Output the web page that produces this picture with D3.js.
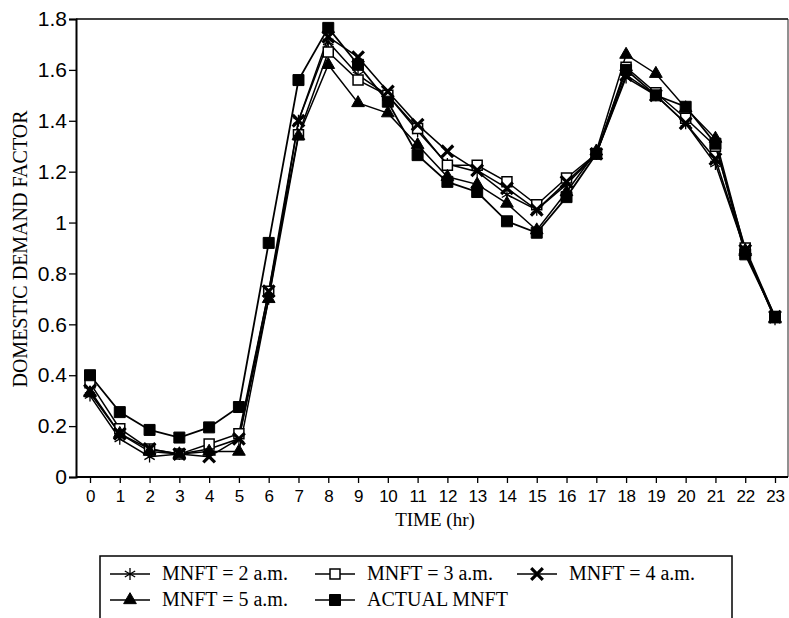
<!DOCTYPE html>
<html>
<head>
<meta charset="utf-8">
<script src="https://cdn.jsdelivr.net/npm/d3@7"></script>
<style>
  body { margin: 0; background: #fff; }
</style>
</head>
<body>
<div id="chart"></div>
<script>
// Hours on the x axis
const hours = [0, 1, 2, 3, 4, 5, 6, 7, 8, 9, 10, 11, 12, 13, 14, 15, 16, 17, 18, 19, 20, 21, 22, 23];
const yTicks = [0, 0.2, 0.4, 0.6, 0.8, 1, 1.2, 1.4, 1.6, 1.8];

// Demand factor per hour
const mnft2 = [0.32, 0.15, 0.08, 0.09, 0.11, 0.15, 0.70, 1.40, 1.71, 1.58, 1.50, 1.36, 1.23, 1.20, 1.11, 1.05, 1.15, 1.27, 1.57, 1.50, 1.39, 1.23, 0.89, 0.62];
const mnft3 = [0.37, 0.19, 0.11, 0.09, 0.13, 0.17, 0.73, 1.345, 1.67, 1.56, 1.50, 1.37, 1.225, 1.225, 1.16, 1.07, 1.175, 1.27, 1.61, 1.51, 1.41, 1.30, 0.90, 0.63];
const mnft4 = [0.34, 0.17, 0.11, 0.09, 0.08, 0.15, 0.73, 1.40, 1.73, 1.65, 1.515, 1.385, 1.28, 1.205, 1.135, 1.05, 1.16, 1.27, 1.58, 1.50, 1.39, 1.25, 0.89, 0.63];
const mnft5 = [0.33, 0.17, 0.10, 0.09, 0.10, 0.10, 0.70, 1.34, 1.62, 1.47, 1.43, 1.305, 1.18, 1.15, 1.075, 0.97, 1.12, 1.28, 1.66, 1.585, 1.45, 1.33, 0.89, 0.62];
const actual = [0.40, 0.255, 0.185, 0.155, 0.195, 0.275, 0.92, 1.56, 1.765, 1.62, 1.475, 1.265, 1.16, 1.12, 1.005, 0.96, 1.10, 1.27, 1.60, 1.50, 1.455, 1.31, 0.875, 0.63];

const seriesNames = ["MNFT = 2 a.m.", "MNFT = 3 a.m.", "MNFT = 4 a.m.", "MNFT = 5 a.m.", "ACTUAL MNFT"];

const width = 789;
const height = 618;
const plot = { left: 76, top: 19, right: 788, bottom: 477 };

const svg = d3.select("#chart")
  .append("svg")
  .attr("width", width)
  .attr("height", height);

// Scales
const x = d3.scalePoint()
  .domain(hours)
  .range([90, 775]);

const y = d3.scaleLinear()
  .domain([0, 1.8])
  .range([plot.bottom, plot.top]);

// Marker styles for each series
const markers = [
  { type: d3.symbolAsterisk, size: 100, fill: "none", stroke: "#000", sw: 1.3 },
  { type: d3.symbolSquare, size: 100, fill: "#fff", stroke: "#000", sw: 1.5 },
  { type: d3.symbolTimes, size: 90, fill: "none", stroke: "#000", sw: 3.2 },
  { type: d3.symbolTriangle, size: 70, fill: "#000", stroke: "#000", sw: 1 },
  { type: d3.symbolSquare, size: 121, fill: "#000", stroke: "#000", sw: 1 }
];

const allSeries = [mnft2, mnft3, mnft4, mnft5, actual];

// Frame around the plot
svg.append("line").attr("x1", plot.left).attr("x2", plot.right)
  .attr("y1", plot.top).attr("y2", plot.top)
  .attr("stroke", "#000").attr("stroke-width", 1.6);
svg.append("line").attr("x1", plot.right).attr("x2", plot.right)
  .attr("y1", plot.top).attr("y2", plot.bottom)
  .attr("stroke", "#222").attr("stroke-width", 1);

// Axes
const yAxis = svg.append("g")
  .attr("transform", `translate(${plot.left}, 0)`)
  .call(d3.axisLeft(y).tickValues(yTicks).tickFormat(d => String(d)).tickSize(7).tickPadding(2));
yAxis.select(".domain").attr("stroke-width", 2);
yAxis.selectAll(".tick line").attr("stroke-width", 1.3);
yAxis.selectAll("text")
  .attr("font-family", "'Liberation Sans', Arial, sans-serif")
  .attr("font-size", 21)
  .attr("fill", "#000");

const xAxis = svg.append("g")
  .attr("transform", `translate(0, ${plot.bottom})`)
  .call(d3.axisBottom(x).tickSize(6).tickPadding(7));
xAxis.select(".domain").attr("d", `M${plot.left},0H${plot.right}`).attr("stroke-width", 2);
xAxis.selectAll(".tick line").attr("stroke-width", 1.3);
xAxis.selectAll("text")
  .attr("font-family", "'Liberation Sans', Arial, sans-serif")
  .attr("font-size", 17)
  .attr("letter-spacing", -0.3)
  .attr("fill", "#000");

// Axis titles
svg.append("text")
  .attr("transform", "rotate(-90)")
  .attr("x", -249)
  .attr("y", 27)
  .attr("text-anchor", "middle")
  .attr("font-family", "'Liberation Serif', 'Times New Roman', serif")
  .attr("font-size", 20)
  .text("DOMESTIC DEMAND FACTOR");

svg.append("text")
  .attr("x", 435)
  .attr("y", 526)
  .attr("text-anchor", "middle")
  .attr("font-family", "'Liberation Serif', 'Times New Roman', serif")
  .attr("font-size", 19)
  .text("TIME (hr)");

// Lines and markers
const line = d3.line()
  .x((d, i) => x(hours[i]))
  .y(d => y(d));

allSeries.forEach((values, k) => {
  svg.append("path")
    .datum(values)
    .attr("fill", "none")
    .attr("stroke", "#000")
    .attr("stroke-width", k === 4 ? 1.8 : 1.5)
    .attr("d", line);
});

allSeries.forEach((values, k) => {
  const m = markers[k];
  svg.append("g")
    .selectAll("path")
    .data(values)
    .enter()
    .append("path")
    .attr("transform", (d, i) => `translate(${x(hours[i])}, ${y(d)})`)
    .attr("d", d3.symbol().type(m.type).size(m.size))
    .attr("fill", m.fill)
    .attr("stroke", m.stroke)
    .attr("stroke-width", m.sw);
});

// Legend
const legend = svg.append("g");
legend.append("rect")
  .attr("x", 100)
  .attr("y", 556)
  .attr("width", 632)
  .attr("height", 90)
  .attr("fill", "none")
  .attr("stroke", "#000")
  .attr("stroke-width", 1.5);

const cols = [110, 315, 517];
const rows = [574, 600];

seriesNames.forEach((name, k) => {
  const cx = cols[k % 3];
  const cy = rows[Math.floor(k / 3)];
  const m = markers[k];
  const item = legend.append("g");
  item.append("line")
    .attr("x1", cx).attr("x2", cx + 40)
    .attr("y1", cy).attr("y2", cy)
    .attr("stroke", "#000").attr("stroke-width", 1.5);
  item.append("path")
    .attr("transform", `translate(${cx + 20}, ${cy})`)
    .attr("d", d3.symbol().type(m.type).size(m.size))
    .attr("fill", m.fill)
    .attr("stroke", m.stroke)
    .attr("stroke-width", m.sw);
  item.append("text")
    .attr("x", cx + 52)
    .attr("y", cy + 6)
    .attr("font-family", "'Liberation Serif', 'Times New Roman', serif")
    .attr("font-size", 20)
    .text(name);
});
</script>
</body>
</html>
